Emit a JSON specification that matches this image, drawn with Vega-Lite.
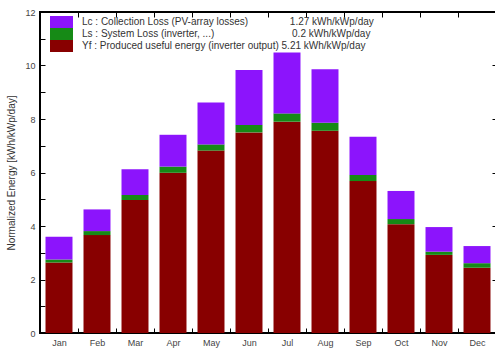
{
  "$schema": "https://vega.github.io/schema/vega-lite/v6.json",
  "width": 456,
  "height": 321,
  "autosize": "none",
  "padding": {"left": 40, "top": 12, "right": 0, "bottom": 16},
  "background": "white",
  "config": {
    "view": {"stroke": "black", "strokeWidth": 2},
    "font": "Liberation Sans",
    "axis": {
      "grid": false,
      "ticks": true,
      "domain": false,
      "zindex": 1,
      "tickColor": "black",
      "tickWidth": 1,
      "tickSize": 5,
      "offset": -5,
      "labelFont": "Liberation Sans",
      "labelFontSize": 9,
      "labelColor": "#444",
      "titleFont": "Liberation Sans",
      "titleFontWeight": "normal",
      "titleFontSize": 10,
      "titleColor": "#333"
    }
  },
  "data": {
    "values": [
      {"month": "Jan", "comp": "Yf", "ord": 1, "value": 2.64}, {"month": "Jan", "comp": "Ls", "ord": 2, "value": 0.11}, {"month": "Jan", "comp": "Lc", "ord": 3, "value": 0.85},
      {"month": "Feb", "comp": "Yf", "ord": 1, "value": 3.66}, {"month": "Feb", "comp": "Ls", "ord": 2, "value": 0.15}, {"month": "Feb", "comp": "Lc", "ord": 3, "value": 0.81},
      {"month": "Mar", "comp": "Yf", "ord": 1, "value": 4.97}, {"month": "Mar", "comp": "Ls", "ord": 2, "value": 0.19}, {"month": "Mar", "comp": "Lc", "ord": 3, "value": 0.96},
      {"month": "Apr", "comp": "Yf", "ord": 1, "value": 5.99}, {"month": "Apr", "comp": "Ls", "ord": 2, "value": 0.23}, {"month": "Apr", "comp": "Lc", "ord": 3, "value": 1.19},
      {"month": "May", "comp": "Yf", "ord": 1, "value": 6.82}, {"month": "May", "comp": "Ls", "ord": 2, "value": 0.23}, {"month": "May", "comp": "Lc", "ord": 3, "value": 1.57},
      {"month": "Jun", "comp": "Yf", "ord": 1, "value": 7.50}, {"month": "Jun", "comp": "Ls", "ord": 2, "value": 0.28}, {"month": "Jun", "comp": "Lc", "ord": 3, "value": 2.05},
      {"month": "Jul", "comp": "Yf", "ord": 1, "value": 7.90}, {"month": "Jul", "comp": "Ls", "ord": 2, "value": 0.31}, {"month": "Jul", "comp": "Lc", "ord": 3, "value": 2.28},
      {"month": "Aug", "comp": "Yf", "ord": 1, "value": 7.56}, {"month": "Aug", "comp": "Ls", "ord": 2, "value": 0.30}, {"month": "Aug", "comp": "Lc", "ord": 3, "value": 2.00},
      {"month": "Sep", "comp": "Yf", "ord": 1, "value": 5.68}, {"month": "Sep", "comp": "Ls", "ord": 2, "value": 0.23}, {"month": "Sep", "comp": "Lc", "ord": 3, "value": 1.43},
      {"month": "Oct", "comp": "Yf", "ord": 1, "value": 4.07}, {"month": "Oct", "comp": "Ls", "ord": 2, "value": 0.19}, {"month": "Oct", "comp": "Lc", "ord": 3, "value": 1.05},
      {"month": "Nov", "comp": "Yf", "ord": 1, "value": 2.92}, {"month": "Nov", "comp": "Ls", "ord": 2, "value": 0.12}, {"month": "Nov", "comp": "Lc", "ord": 3, "value": 0.92},
      {"month": "Dec", "comp": "Yf", "ord": 1, "value": 2.44}, {"month": "Dec", "comp": "Ls", "ord": 2, "value": 0.17}, {"month": "Dec", "comp": "Lc", "ord": 3, "value": 0.64}
    ]
  },
  "encoding": {
    "x": {
      "field": "month",
      "type": "ordinal",
      "sort": ["Jan", "Feb", "Mar", "Apr", "May", "Jun", "Jul", "Aug", "Sep", "Oct", "Nov", "Dec"],
      "scale": {"paddingInner": 0, "paddingOuter": 0}
    },
    "y": {
      "field": "value",
      "type": "quantitative",
      "aggregate": "sum",
      "stack": "zero",
      "scale": {"domain": [0, 12], "nice": false}
    },
    "order": {"field": "ord", "type": "quantitative"}
  },
  "layer": [
    {
      "mark": {"type": "bar", "width": {"band": 0.71}},
      "encoding": {
        "x": {
          "field": "month",
          "type": "ordinal",
          "sort": ["Jan", "Feb", "Mar", "Apr", "May", "Jun", "Jul", "Aug", "Sep", "Oct", "Nov", "Dec"],
          "axis": {"orient": "bottom", "title": null, "labelAngle": 0, "tickBand": "extent", "labelPadding": 5}
        },
        "y": {
          "field": "value",
          "type": "quantitative",
          "aggregate": "sum",
          "stack": "zero",
          "axis": {
            "orient": "left",
            "title": "Normalized Energy [kWh/kWp/day]",
            "values": [0, 1, 2, 3, 4, 5, 6, 7, 8, 9, 10, 11, 12],
            "labelExpr": "datum.value % 2 == 0 ? datum.label : ''",
            "labelPadding": 5,
            "titlePadding": 8
          }
        },
        "color": {
          "field": "comp",
          "type": "nominal",
          "scale": {"domain": ["Lc", "Ls", "Yf"], "range": ["#8c14fc", "#168a16", "#880000"]},
          "legend": {
            "orient": "none",
            "legendX": 16.5,
            "legendY": 5,
            "title": null,
            "symbolType": "M-2.3,-1.2H2.3V1.2H-2.3Z",
            "symbolSize": 100,
            "symbolStrokeWidth": 0,
            "symbolOpacity": 1,
            "rowPadding": 0,
            "labelOffset": 15.5,
            "labelFont": "Liberation Sans",
            "labelFontSize": 10,
            "labelColor": "#333",
            "labelLimit": 420,
            "labelExpr": "datum.label == 'Lc' ? 'Lc : Collection Loss (PV-array losses)\u00a0\u00a0\u00a0\u00a0\u00a0\u00a0\u00a0\u00a0\u00a0\u00a0\u00a0\u00a0\u00a0\u00a0\u00a01.27 kWh/kWp/day' : datum.label == 'Ls' ? 'Ls : System Loss (inverter, ...)\u00a0\u00a0\u00a0\u00a0\u00a0\u00a0\u00a0\u00a0\u00a0\u00a0\u00a0\u00a0\u00a0\u00a0\u00a0\u00a0\u00a0\u00a0\u00a0\u00a0\u00a0\u00a0\u00a0\u00a0\u00a0\u00a0\u00a0\u00a00.2 kWh/kWp/day' : 'Yf : Produced useful energy (inverter output)\u00a05.21 kWh/kWp/day'"
          }
        }
      }
    },
    {
      "mark": {"type": "bar", "width": {"band": 0.71}, "opacity": 0},
      "encoding": {
        "x": {
          "field": "month",
          "type": "ordinal",
          "sort": ["Jan", "Feb", "Mar", "Apr", "May", "Jun", "Jul", "Aug", "Sep", "Oct", "Nov", "Dec"],
          "axis": {"orient": "top", "title": null, "labels": false, "tickBand": "extent"}
        },
        "y": {
          "field": "value",
          "type": "quantitative",
          "aggregate": "sum",
          "stack": "zero",
          "axis": {
            "orient": "right",
            "title": null,
            "labels": false,
            "values": [0, 2, 4, 6, 8, 10, 12],
            "offset": -4,
            "tickSize": 3
          }
        }
      }
    }
  ],
  "resolve": {"axis": {"x": "independent", "y": "independent"}}
}
